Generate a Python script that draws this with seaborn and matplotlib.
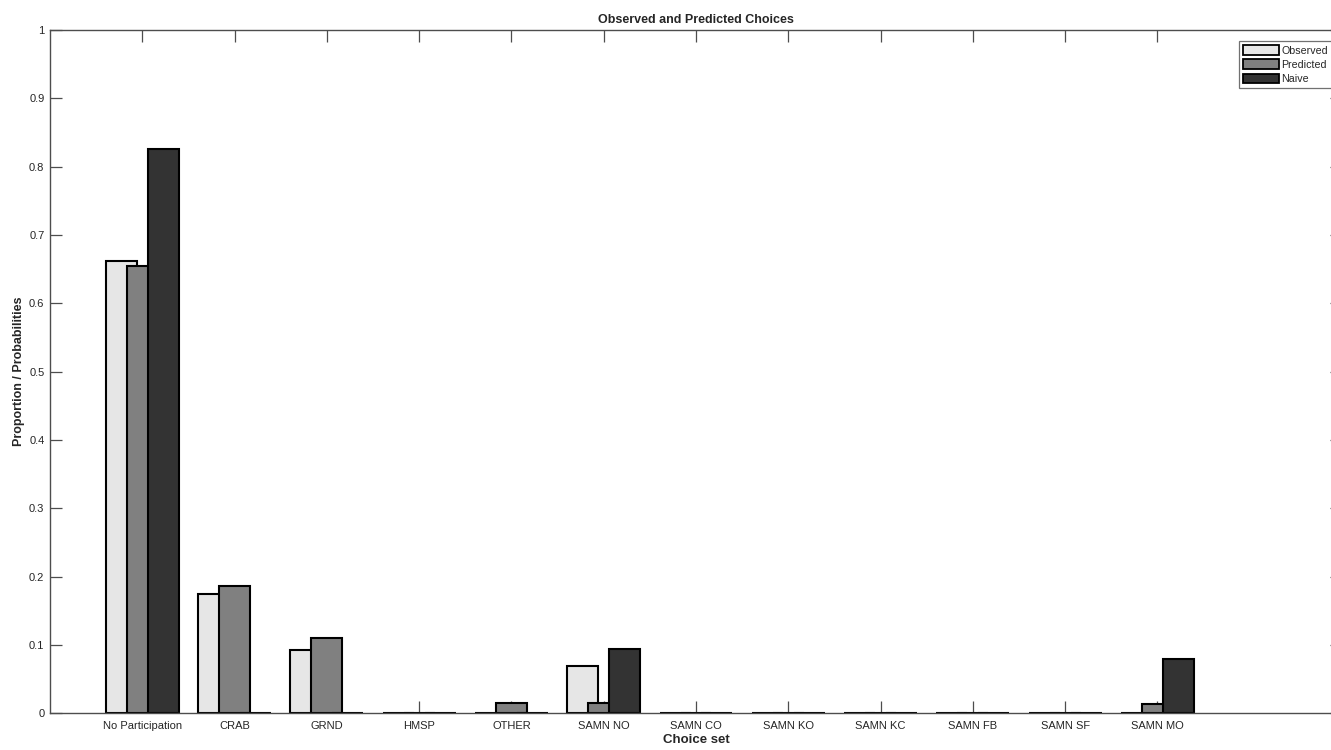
import numpy as np
import matplotlib
matplotlib.use("Agg")
import matplotlib.pyplot as plt
import seaborn as sns
from matplotlib.patches import Patch

sns.set_style("white")
plt.rcParams["font.family"] = ["Liberation Sans", "DejaVu Sans"]

categories = ["No Participation", "CRAB", "GRND", "HMSP", "OTHER", "SAMN NO",
              "SAMN CO", "SAMN KO", "SAMN KC", "SAMN FB", "SAMN SF", "SAMN MO"]
observed = [0.662, 0.175, 0.092, 0.0, 0.0, 0.069, 0.0, 0.0, 0.0, 0.0, 0.0, 0.0]
predicted = [0.655, 0.186, 0.110, 0.0, 0.0155, 0.0155, 0.0, 0.0, 0.0, 0.0, 0.0, 0.013]
naive = [0.826, 0.0, 0.0, 0.0, 0.0, 0.094, 0.0, 0.0, 0.0, 0.0, 0.0, 0.080]
series_names = ["Observed", "Predicted", "Naive"]
y_ticks = [0, 0.1, 0.2, 0.3, 0.4, 0.5, 0.6, 0.7, 0.8, 0.9, 1]

colors = ["#e6e6e6", "#808080", "#333333"]
offsets = [-0.227, 0.0, 0.227]
bar_width = 0.335
text_color = "#262626"
axis_color = "#4d4d4d"

fig = plt.figure(figsize=(13.31, 7.5), dpi=100)
ax = fig.add_axes([0.03757, 0.0489, 0.9707, 0.9111])

positions = np.arange(1, len(categories) + 1)
for values, off, col in zip([observed, predicted, naive], offsets, colors):
    sns.barplot(x=positions + off, y=values, native_scale=True, width=bar_width,
                color=col, saturation=1, edgecolor="black", linewidth=1.5,
                errorbar=None, ax=ax)

ax.set_xlim(0, 14)
ax.set_ylim(0, 1)
ax.set_xticks(positions)
ax.set_xticklabels(categories)
ax.set_yticks(y_ticks)
ax.set_yticklabels([f"{t:g}" for t in y_ticks])

for side in ["left", "right", "top", "bottom"]:
    ax.spines[side].set_visible(True)
    ax.spines[side].set_color(axis_color)
    ax.spines[side].set_linewidth(1.0)

ax.tick_params(axis="both", which="major", direction="in", length=8.6, width=0.9,
               color=axis_color, labelsize=8, labelcolor=text_color,
               top=True, right=True, bottom=True, left=True)
ax.tick_params(axis="x", pad=5.5)
ax.tick_params(axis="y", pad=4)

ax.set_title("Observed and Predicted Choices", fontsize=9, fontweight="bold",
             color=text_color, pad=5)
ax.set_xlabel("Choice set", fontsize=9.5, fontweight="bold", color=text_color,
              labelpad=2)
ax.set_ylabel("Proportion / Probabilities", fontsize=9, fontweight="bold",
              color=text_color, labelpad=3)

handles = [Patch(facecolor=c, edgecolor="black", linewidth=1.3, label=n)
           for c, n in zip(colors, series_names)]
leg = fig.legend(handles=handles, loc="upper left",
                 bbox_to_anchor=(1239 / 1331, 1 - 41 / 750),
                 fontsize=7.7, frameon=True, fancybox=False, handlelength=3.3,
                 handleheight=1.0, handletextpad=0.25, labelspacing=0.35,
                 borderpad=0.4, borderaxespad=0)
leg.get_frame().set_edgecolor(axis_color)
leg.get_frame().set_linewidth(0.9)
for t in leg.get_texts():
    t.set_color(text_color)

fig.savefig("out.png", dpi=100)
